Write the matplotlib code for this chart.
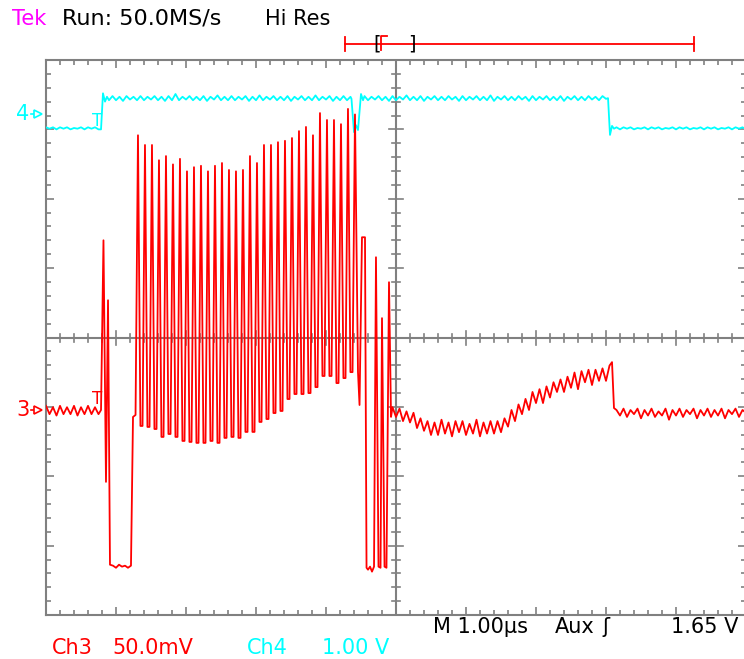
import matplotlib
matplotlib.use("Agg")
import matplotlib.pyplot as plt

RED = "#ff0000"
CYAN = "#00ffff"
GRAT = "#808080"

W, H = 744, 659

# vertical settings (8 div), timebase 1.00 us/div (10 div)
ch3_scale = 50.0    # mV/div
ch4_scale = 1.00    # V/div
ch3_pos = -1.045    # div, ground marker "3"
ch4_pos = 3.22      # div, ground marker "4"
dt = 0.05           # us between samples in the sampled runs

# ---- Ch4 (V) ----
ch4_pre = [-0.19, -0.21, -0.19, -0.22, -0.19, -0.21, -0.19, -0.22,
           -0.20, -0.21, -0.19, -0.22, -0.19, -0.21, -0.19, -0.22]   # t = 0.00 .. 0.75
ch4_rise_t = [0.786, 0.800, 0.814, 0.843, 0.871]
ch4_rise_v = [-0.22, 0.05, 0.30, 0.18, 0.25]
ch4_high1 = [0.20, 0.26, 0.20, 0.25, 0.19, 0.26, 0.21, 0.25, 0.20, 0.26,
             0.20, 0.25, 0.21, 0.26, 0.20, 0.25, 0.19, 0.26, 0.20, 0.29,
             0.20, 0.25, 0.21, 0.26, 0.20, 0.25, 0.20, 0.26, 0.19, 0.25,
             0.21, 0.27, 0.20, 0.25, 0.20, 0.26, 0.20, 0.25, 0.21, 0.26,
             0.19, 0.25, 0.20, 0.27, 0.20, 0.25, 0.21, 0.26, 0.20, 0.25,
             0.20, 0.26, 0.19, 0.25, 0.21, 0.26, 0.20, 0.25, 0.20, 0.27,
             0.20, 0.25, 0.21, 0.26, 0.19, 0.25, 0.20, 0.26, 0.20, 0.25]  # t = 0.90 .. 4.35
ch4_glitch_t = [4.364, 4.400, 4.429, 4.457, 4.500, 4.529]
ch4_glitch_v = [0.22, -0.26, -0.16, -0.23, 0.29, 0.20]
ch4_high2 = [0.26, 0.20, 0.25, 0.21, 0.26, 0.20, 0.25, 0.19, 0.26, 0.20,
             0.25, 0.21, 0.27, 0.20, 0.25, 0.20, 0.26, 0.19, 0.25, 0.21,
             0.26, 0.20, 0.25, 0.20, 0.26, 0.21, 0.25, 0.19, 0.26, 0.20,
             0.25, 0.21, 0.26, 0.20, 0.25, 0.20, 0.27, 0.19, 0.25, 0.21,
             0.26, 0.20, 0.25, 0.20, 0.26, 0.21, 0.25, 0.19, 0.26, 0.20,
             0.25, 0.21, 0.26, 0.20, 0.25, 0.20, 0.26, 0.19, 0.25, 0.21,
             0.26, 0.20, 0.25, 0.20, 0.26, 0.21, 0.25, 0.20, 0.26, 0.22]  # t = 4.55 .. 8.00
ch4_fall_t = [8.029, 8.057, 8.086, 8.114]
ch4_fall_v = [0.23, -0.30, -0.17, -0.21]
ch4_post = [-0.19, -0.22, -0.19, -0.21, -0.19, -0.22, -0.20, -0.21, -0.19, -0.22,
            -0.19, -0.21, -0.19, -0.22, -0.20, -0.21, -0.19, -0.22, -0.19, -0.21,
            -0.19, -0.22, -0.20, -0.21, -0.19, -0.22, -0.19, -0.21, -0.19, -0.22,
            -0.20, -0.21, -0.19, -0.22, -0.19, -0.21, -0.19, -0.22]        # t = 8.15 .. 10.00

# ---- Ch3 (mV) ----
ch3_pre = [3, -3, 2, -4, 3, -3, 2, -3, 3, -4, 2, -3, 3, -3, 2, -3]  # t = 0.00 .. 0.75
ch3_lead_t = [0.786, 0.821, 0.857, 0.886, 0.914, 0.957, 1.000, 1.043,
              1.086, 1.129, 1.171, 1.214, 1.243, 1.279]
ch3_lead_mv = [0, 122.3, -51.8, 79.1, -111.5, -112.2, -113.7, -111.5,
               -112.9, -112.2, -113.7, -112.2, -5.0, -3.6]
ch3_spike_t = [1.314, 1.414, 1.514, 1.614, 1.714, 1.814, 1.914, 2.014,
               2.114, 2.214, 2.314, 2.414, 2.514, 2.614, 2.714, 2.814,
               2.914, 3.014, 3.114, 3.214, 3.314, 3.414, 3.514, 3.614,
               3.714, 3.814, 3.914, 4.014, 4.114, 4.214, 4.314, 4.414]
ch3_spike_mv = [198, 191, 191, 180, 183, 177, 181, 172, 175, 176, 172, 176,
                178, 173, 172, 173, 183, 178, 191, 191, 193, 194, 196, 201,
                204, 198, 214, 209, 209, 206, 217, 213]
ch3_trough_mv = [-11.5, -12.2, -13.7, -19.4, -17.3, -19.4, -22.3, -23.0,
                 -23.7, -23.7, -22.3, -23.7, -20.1, -19.4, -20.1, -15.8,
                 -15.8, -8.6, -6.5, -2.2, -0.7, 7.9, 11.5, 11.5,
                 12.2, 16.5, 24.5, 24.5, 19.4, 23.0, 27.3]
ch3_tail_t = [4.457, 4.479, 4.514, 4.557, 4.579, 4.600, 4.629, 4.657, 4.686,
              4.714, 4.750, 4.779, 4.800, 4.836, 4.864, 4.900, 4.929]
ch3_tail_mv = [27.3, 3.6, 124.5, 124.5, -113.7, -115.1, -112.9, -116.5, -112.9,
               110.1, -112.9, -113.7, 66.2, -112.9, -113.7, 92.1, -5.0]
ch3_mid = [2, -5, 1, -8, -1, -9, -2, -13, -6, -15,
           -8, -18, -9, -18, -7, -17, -9, -19, -8, -16,
           -8, -18, -10, -17, -7, -19, -9, -17, -8, -17,
           -8, -16, -6, -12, 0, -8, 4, -3, 8, 0,
           13, 5, 15, 5, 17, 9, 20, 13, 22, 13,
           24, 16, 27, 15, 28, 20, 29, 18, 29, 21,
           30, 21, 32]                                  # t = 4.95 .. 8.05
ch3_drop_t = [8.086, 8.114]
ch3_drop_mv = [34.5, 1.4]
ch3_post = [0, -4, 1, -5, 0, -3, 1, -6, 0, -4,
            1, -5, -1, -4, 1, -7, 0, -4, 1, -5,
            0, -3, 1, -6, 0, -4, 1, -5, 0, -4,
            1, -6, 0, -3, 1, -5, 0, -2]                 # t = 8.15 .. 10.00


def run(t0, vals):
    return [t0 + i * dt for i in range(len(vals))], list(vals)


def join(*parts):
    t, v = [], []
    for pt, pv in parts:
        t += list(pt)
        v += list(pv)
    return t, v


# spike train: peak, then a short flat trough before the next peak
sp_t, sp_v = [], []
for i, (tp, vp) in enumerate(zip(ch3_spike_t, ch3_spike_mv)):
    sp_t.append(tp)
    sp_v.append(vp)
    if i < len(ch3_trough_mv):
        sp_t += [tp + 0.035, tp + 0.065]
        sp_v += [ch3_trough_mv[i], ch3_trough_mv[i]]

ch4_t, ch4_v = join(run(0.0, ch4_pre), (ch4_rise_t, ch4_rise_v), run(0.90, ch4_high1),
                    (ch4_glitch_t, ch4_glitch_v), run(4.55, ch4_high2),
                    (ch4_fall_t, ch4_fall_v), run(8.15, ch4_post))
ch3_t, ch3_v = join(run(0.0, ch3_pre), (ch3_lead_t, ch3_lead_mv), (sp_t, sp_v),
                    (ch3_tail_t, ch3_tail_mv), run(4.95, ch3_mid),
                    (ch3_drop_t, ch3_drop_mv), run(8.15, ch3_post))

fig = plt.figure(figsize=(W / 100, H / 100), dpi=100)
fig.patch.set_facecolor("white")

left, right, top, bottom = 46, 746, 60, 615
ax = fig.add_axes([left / W, 1 - bottom / H, (right - left) / W, (bottom - top) / H])
ax.set_xlim(0, 10)
ax.set_ylim(-4, 4)

# graticule: frame with inward ticks, centre cross with ticks
for s in ax.spines.values():
    s.set_color(GRAT)
    s.set_linewidth(1.5)
ax.set_xticks(range(0, 11))
ax.set_yticks(range(-4, 5))
ax.set_xticks([i * 0.2 for i in range(51)], minor=True)
ax.set_yticks([-4 + i * 0.2 for i in range(41)], minor=True)
ax.tick_params(which="both", direction="in", top=True, right=True, color=GRAT,
               labelbottom=False, labelleft=False, width=1.2)
ax.tick_params(which="major", length=6)
ax.tick_params(which="minor", length=3.5)
ax.axhline(0, color=GRAT, lw=1.5, zorder=1)
ax.axvline(5, color=GRAT, lw=1.5, zorder=1)
px_x = 10 / (right - left)
px_y = 8 / (bottom - top)
for i in range(51):
    x = i * 0.2
    h = 7 if i % 5 == 0 else 4
    ax.plot([x, x], [-h * px_y, h * px_y], color=GRAT, lw=1.2, zorder=1)
for i in range(41):
    y = -4 + i * 0.2
    h = 7 if i % 5 == 0 else 4
    ax.plot([5 - h * px_x, 5 + h * px_x], [y, y], color=GRAT, lw=1.2, zorder=1)

# traces
ax.plot(ch4_t, [ch4_pos + v / ch4_scale for v in ch4_v], color=CYAN, lw=1.3, zorder=3)
ax.plot(ch3_t, [ch3_pos + v / ch3_scale for v in ch3_v], color=RED, lw=1.3, zorder=4)

# overlay in pixel units for the readout and markers
ov = fig.add_axes([0, 0, 1, 1], zorder=5)
ov.set_xlim(0, W)
ov.set_ylim(H, 0)
ov.axis("off")
ov.patch.set_alpha(0)

fs = 15
ov.text(12, 19, "Tek", color="#ff00ff", fontsize=fs, va="center")
ov.text(62, 19, "Run: 50.0MS/s", color="black", fontsize=16, va="center")
ov.text(265, 19, "Hi Res", color="black", fontsize=fs, va="center")

ov.text(433, 627, "M 1.00\u00b5s", color="black", fontsize=fs, va="center")
ov.text(555, 627, "Aux", color="black", fontsize=fs, va="center")
ov.text(602, 627, "\u0283", color="black", fontsize=fs, va="center")
ov.text(738, 627, "1.65 V", color="black", fontsize=fs, va="center", ha="right")
ov.text(52, 648, "Ch3", color=RED, fontsize=fs, va="center")
ov.text(112, 648, "50.0mV", color=RED, fontsize=fs, va="center")
ov.text(247, 648, "Ch4", color=CYAN, fontsize=fs, va="center")
ov.text(322, 648, "1.00 V", color=CYAN, fontsize=fs, va="center")

# channel ground markers
for lab, yy, col in (("4", 114, CYAN), ("3", 410, RED)):
    ov.text(16, yy, lab, color=col, fontsize=fs, va="center")
    ov.plot([31, 37], [yy, yy], color=col, lw=1.2)
    ov.plot([38], [yy], marker=">", ms=6, mfc="white", mec=col, mew=1.2)

# trigger markers
ov.text(97, 121, "T", color=CYAN, fontsize=12, va="center", ha="center")
ov.text(97, 399, "T", color=RED, fontsize=12, va="center", ha="center")

# record/position bar
ov.plot([345, 694], [44, 44], color=RED, lw=1.3)
ov.plot([345, 345], [37, 51], color=RED, lw=1.3)
ov.plot([694, 694], [37, 51], color=RED, lw=1.3)
ov.text(377, 44, "[", color="black", fontsize=14, va="center", ha="center")
ov.text(412, 44, "]", color="black", fontsize=14, va="center", ha="center")
ov.plot([381, 381, 387], [50, 36, 36], color=RED, lw=1.3)

fig.savefig("out.png", dpi=100, facecolor="white")
